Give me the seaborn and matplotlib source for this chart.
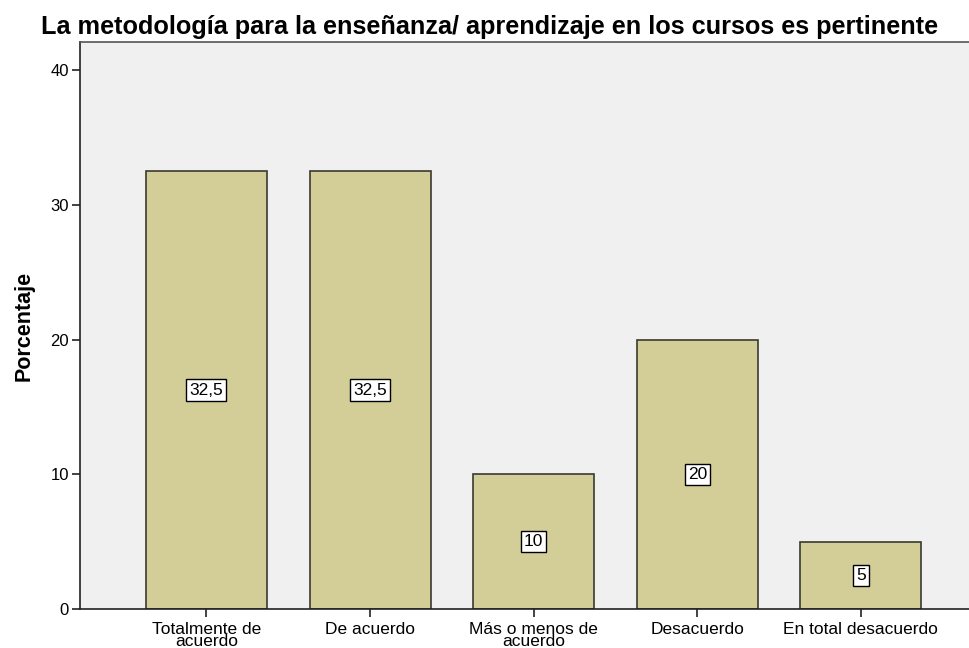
import matplotlib
matplotlib.use("Agg")
import matplotlib.pyplot as plt
import seaborn as sns
import pandas as pd

categories = ["Totalmente de\nacuerdo", "De acuerdo", "Más o menos de\nacuerdo",
              "Desacuerdo", "En total desacuerdo"]
values = [32.5, 32.5, 10, 20, 5]
value_labels = ["32,5", "32,5", "10", "20", "5"]
yticks = [0, 10, 20, 30, 40]

sns.set_theme(style="white")
plt.rcParams['font.family'] = ['Liberation Sans', 'DejaVu Sans']
plt.rcParams['text.color'] = 'black'
plt.rcParams['xtick.color'] = 'black'
plt.rcParams['ytick.color'] = 'black'
plt.rcParams['axes.labelcolor'] = 'black'

df = pd.DataFrame({"cat": categories, "val": values})

fig = plt.figure(figsize=(9.69, 6.48), dpi=100)
ax = fig.add_axes([80/969, 39/648, 1 - 80/969 + 0.01, (609-42)/648])
ax.set_facecolor("#F0F0F0")

sns.barplot(data=df, x="cat", y="val", ax=ax, color="#D3CE97", saturation=1,
            width=0.74, edgecolor="#3a3a30", linewidth=1.2)

ax.set_ylim(0, 42.08)
ax.set_xlim(-0.773, 4.72)
ax.set_yticks(yticks)
ax.set_yticklabels([str(t) for t in yticks], fontsize=12)
ax.set_xticks(range(len(categories)))
ax.set_xticklabels(categories, fontsize=12.5, linespacing=0.78)
ax.tick_params(axis="both", direction="out", length=6, width=1.2, color="#222222",
               bottom=True, left=True, pad=2)
ax.tick_params(axis="x", pad=3)
ax.set_xlabel("")
ax.set_ylabel("Porcentaje", fontsize=15.5, fontweight="bold")
ax.yaxis.set_label_coords(-0.051, 0.5)

for s in ["left", "bottom"]:
    ax.spines[s].set_color("#222222")
    ax.spines[s].set_linewidth(1.2)
ax.spines["top"].set_color("#555555")
ax.spines["top"].set_linewidth(1.2)
ax.spines["right"].set_visible(False)

for i, (v, lab) in enumerate(zip(values, value_labels)):
    ax.text(i, v / 2, lab, ha="center", va="center", fontsize=12.5, color="black",
            bbox=dict(boxstyle="square,pad=0.18", facecolor="white", edgecolor="black", linewidth=1))

fig.text(490/969, 1 - 27/648, "La metodología para la enseñanza/ aprendizaje en los cursos es pertinente",
         ha="center", va="center", fontsize=18.2, fontweight="bold", color="black")

fig.savefig("out.png", dpi=100)
